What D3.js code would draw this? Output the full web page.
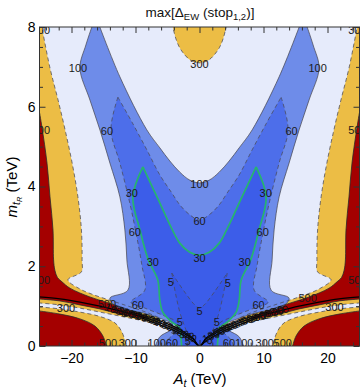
<!DOCTYPE html>
<html>
<head>
<meta charset="utf-8">
<script src="https://cdn.jsdelivr.net/npm/d3@7/dist/d3.min.js"></script>
<style>
  body { margin: 0; background: #fff; }
  svg { display: block; }
  text { font-family: "Liberation Sans", Arial, sans-serif; }
</style>
</head>
<body>
<div id="chart"></div>
<script>
(function() {
  // contour lines for A_t < 0, as [A_t, m_tR] in TeV; the A_t > 0 half is mirrored
  var dome300 = [[0,7.10],[-0.74,7.12],[-1.52,7.18],[-2.3,7.30],[-3.1,7.48],[-3.72,7.72],[-4.3,8.1]];
  var outer300 = [[-24.75,8.1],[-23.4,7.0],[-22.1,6.17],[-21.0,5.42],[-19.9,4.59],[-19.0,3.74],[-18.45,2.91],[-18.35,2.16],[-18.45,1.86],[-20.55,1.66],[-18.68,1.43],[-16.81,1.30],[-14.63,1.18],[-12.12,1.05],[-8.39,0.85],[-6.2,0.70]];
  var band300 = [[-6.2,0.58],[-9.32,0.65],[-12.44,0.75],[-15.56,0.85],[-18.68,0.95],[-21.8,1.03],[-25.1,1.08]];
  var low300 = [[-25.1,0.98],[-21.8,0.93],[-18.68,0.85],[-15.56,0.74],[-13.22,0.58],[-12.12,0.35],[-11.35,-0.05]];
  var top500 = [[-25.1,5.95],[-24.6,5.47],[-23.83,4.59],[-23.36,3.74],[-22.89,2.91],[-22.8,2.16],[-22.6,1.90],[-22.2,1.72],[-21.49,1.61],[-20.24,1.45],[-17.12,1.23],[-14.63,1.10],[-12.12,0.97],[-9.32,0.80],[-7.76,0.68]];
  var bot500 = [[-7.76,0.68],[-9.32,0.70],[-12.44,0.80],[-15.56,0.93],[-18.68,1.03],[-21.8,1.13],[-25.1,1.18]];
  var low500 = [[-25.1,0.88],[-21.8,0.80],[-18.68,0.68],[-16.34,0.50],[-15.09,0.25],[-14.47,-0.05]];
  var out100 = [[-16.6,8.1],[-17.75,7.55],[-18.68,6.97],[-17.12,6.17],[-15.56,5.42],[-14.0,4.59],[-12.44,3.74],[-11.66,2.91],[-11.35,2.16],[-11.19,1.40],[-14.0,1.20],[-12.91,0.98],[-8.85,0.83],[-5.42,0.65],[-3.39,0.50],[-4.64,0.38],[-6.2,0.23],[-6.98,-0.05]];
  var in100 = [[-15.81,8.1],[-12.44,6.75],[-8.23,5.42],[-6.2,4.97],[-4.64,4.64],[-3.08,4.36],[-1.52,4.16],[0,4.09]];
  var out60 = [[-12.75,6.24],[-13.84,5.42],[-12.44,4.59],[-11.0,3.66],[-9.95,2.86],[-9.01,2.03],[-8.54,1.40],[-10.73,1.10],[-8.54,0.95],[-5.42,0.75],[-3.08,0.55],[-3.7,0.35],[-4.95,0.15],[-5.42,-0.05]];
  var in60 = [[-12.75,6.24],[-10.4,5.57],[-8.23,4.92],[-6.2,4.29],[-4.33,3.84],[-3.08,3.54],[-1.52,3.29],[0,3.16]];
  var out30 = [[-8.85,4.49],[-10.41,3.74],[-9.3,2.91],[-8.0,2.16],[-6.51,1.65],[-6.2,1.15],[-5.73,0.85],[-4.33,0.60],[-3.08,0.45],[-2.93,0.28],[-2.77,-0.05]];
  var in30 = [[-8.85,4.49],[-6.4,3.66],[-4.5,3.0],[-3.08,2.58],[-1.52,2.35],[0,2.28]];
  var out5 = [[-4.33,1.83],[-3.7,1.28],[-3.08,0.85],[-2.46,0.55],[-1.99,0.35]];
  var in5 = [[-4.33,1.83],[-2.3,1.35],[-0.74,1.03],[0,0.95]];
  var low5 = [[-2.1,0.28],[-1.7,0.12],[-1.6,-0.05]];
  // where all the contours pile up
  var ridge = [[-25.1,1.23],[-21.8,1.18],[-18.68,1.10],[-15.56,1.00],[-12.44,0.88],[-9.32,0.75],[-6.98,0.63],[-5.42,0.53],[-3.86,0.43],[-2.30,0.30],[-1.05,0.18],[0,0]];
  var ridgeHi = [[-11,0.86],[-9.32,0.79],[-6.98,0.68],[-5.42,0.58],[-3.86,0.48],[-2.3,0.34],[-1.05,0.2],[0,0]];
  var ridgeLo = [[-9,0.70],[-6.98,0.58],[-5.42,0.48],[-3.86,0.38],[-2.3,0.25],[-1.05,0.13],[0,0]];

  // contour labels [A_t, m_tR, text]; the ones at the frame show only what is left of them
  var labels = [
    [0,7.07,'300'],[-18.99,6.97,'100'],[18.45,6.97,'100'],
    [-14.47,5.39,'60'],[14.39,5.39,'60'],
    [0,4.06,'100'],[0,3.13,'60'],[0,2.2,'30'],
    [-10.57,3.84,'30'],[10.34,3.84,'30'],
    [-10.1,2.86,'60'],[9.87,2.86,'60'],
    [-7.29,2.11,'30'],[7.06,2.11,'30'],
    [-4.49,1.61,'5'],[4.41,1.58,'5'],[0,0.88,'5'],
    [-9.63,1.03,'60'],[9.24,1.03,'60'],
    [-3.08,0.60,'5'],[2.69,0.60,'5'],[-1.83,0.13,'5'],[1.6,0.15,'5'],
    [-14.47,1.05,'500'],[16.89,1.20,'500'],
    [-20.86,0.95,'300'],[21.1,0.98,'300'],
    [-24.3,1.66,'00'],[24.2,1.66,'50'],[-24.3,5.42,'00'],[24.2,5.42,'50'],
    [-24.3,7.93,'00'],[24.2,7.93,'30'],
    [-14.3,0.07,'500'],[-11.2,0.07,'300'],[-6.7,0.07,'100'],[-4.3,0.07,'60'],
    [4.6,0.07,'60'],[7.0,0.07,'100'],[10.2,0.07,'300'],[13.0,0.07,'500']
  ];
  var crowdText = ['1000','500','300','100','60','30','1000','500','300','100','60','30','5','1000','500'];
  var crowdA = [-13,-12.2,-11.4,-10.6,-9.8,-9,-8.2,-7.4,-6.6,-5.8,-5,-4.2,-3.4,-2.6,-1.8];
  var crowdM = [0.90,0.87,0.84,0.81,0.77,0.73,0.70,0.66,0.61,0.56,0.50,0.45,0.39,0.32,0.24];

  var xTicks = [-20,-10,0,10,20],
      yTicks = [0,2,4,6,8],
      xMinor = d3.range(-24, 25, 2).filter(function(v) { return v % 10 !== 0; }),
      yMinor = d3.range(0.5, 8, 0.5).filter(function(v) { return v % 2 !== 0; });

  var colors = {
    lt5: '#3556e6', lt30: '#3c5de9', lt60: '#4d6eea', lt100: '#6e8ce9',
    lt300: '#e6ebfb', lt500: '#ecbd45', hi: '#a40000'
  };

  var W = 360, H = 392;
  var x = d3.scaleLinear().domain([-25,25]).range([39.5,359.5]),
      y = d3.scaleLinear().domain([0,8]).range([346,27]);

  var svg = d3.select('#chart').append('svg').attr('width', W).attr('height', H);

  svg.append('clipPath').attr('id', 'plot')
    .append('rect').attr('x', x(-25)).attr('y', y(8))
    .attr('width', x(25) - x(-25)).attr('height', y(0) - y(8));

  var curved = d3.line()
    .x(function(d) { return x(d[0]); })
    .y(function(d) { return y(d[1]); })
    .curve(d3.curveCatmullRom.alpha(0.5));

  function mir(p) { return p.map(function(d) { return [-d[0], d[1]]; }); }
  function rev(p) { return p.slice().reverse(); }
  function sym(p) { return p.concat(rev(mir(p)).slice(1)); } // p ends on A_t = 0

  function part(p, first) {
    if (p.length > 2) {
      var s = curved(p);
      return first ? s : 'L' + s.slice(1);
    }
    return p.map(function(q, j) {
      return (first && j === 0 ? 'M' : 'L') + x(q[0]) + ',' + y(q[1]);
    }).join('');
  }
  function poly(parts) {
    return parts.map(function(p, i) { return part(p, i === 0); }).join('') + 'Z';
  }

  var g = svg.append('g').attr('clip-path', 'url(#plot)');

  g.append('rect').attr('x', x(-25)).attr('y', y(8))
    .attr('width', x(25) - x(-25)).attr('height', y(0) - y(8))
    .attr('fill', colors.lt300);

  var domeFull = sym(rev(dome300)),
      in100Full = sym(in100), in60Full = sym(in60),
      in30Full = sym(in30), in5Full = sym(in5);

  var fills = [
    [poly([domeFull]), colors.lt500],
    [poly([outer300, band300, [[-25.1,8.1]]]), colors.lt500],
    [poly([mir(outer300), mir(band300), [[25.1,8.1]]]), colors.lt500],
    [poly([low300, [[-25.1,-0.05]]]), colors.lt500],
    [poly([mir(low300), [[25.1,-0.05]]]), colors.lt500],
    [poly([top500, bot500]), colors.hi],
    [poly([mir(top500), mir(bot500)]), colors.hi],
    [poly([low500, [[-25.1,-0.05]]]), colors.hi],
    [poly([mir(low500), [[25.1,-0.05]]]), colors.hi],
    [poly([out100, rev(mir(out100)), rev(in100Full)]), colors.lt100],
    [poly([out60, rev(mir(out60)), rev(in60Full)]), colors.lt60],
    [poly([out30, rev(mir(out30)), rev(in30Full)]), colors.lt30],
    [poly([out5, [[0,0]], rev(mir(out5)), rev(in5Full)]), colors.lt5]
  ];
  fills.forEach(function(f) {
    g.append('path').attr('d', f[0]).attr('fill', f[1]);
  });

  // contour lines
  function both(p) { return [p, mir(p)]; }
  var dashed = [domeFull, in60Full, in5Full]
    .concat(both(outer300), both(band300), both(low300), both(out60), both(out5), both(low5));
  var solid = [in100Full].concat(both(out100));
  var dark = [].concat(both(top500), both(bot500), both(low500));
  var green = [in30Full].concat(both(out30));
  var black = [sym(ridge), sym(ridgeHi), sym(ridgeLo)];

  function draw(list, stroke, width, dash, op) {
    list.forEach(function(p) {
      g.append('path').attr('d', curved(p))
        .attr('fill', 'none').attr('stroke', stroke)
        .attr('stroke-width', width).attr('stroke-opacity', op)
        .attr('stroke-dasharray', dash);
    });
  }
  draw(dashed, '#4a4a55', 1, '4,3', 0.75);
  draw(solid, '#4a4a55', 1, null, 0.75);
  draw(dark, '#2a2a2a', 1, null, 0.8);
  draw(green, '#27b46e', 1.7, null, 1);
  draw(black, '#000', 1.2, null, 1);

  // contour labels
  g.selectAll('text.lab').data(labels).enter().append('text')
    .attr('class', 'lab')
    .attr('x', function(d) { return x(d[0]); })
    .attr('y', function(d) { return y(d[1]); })
    .attr('text-anchor', 'middle').attr('dy', '0.36em')
    .attr('font-size', 11).attr('fill', '#1a1a1a')
    .text(function(d) { return d[2]; });

  [1, -1].forEach(function(s) {
    crowdA.forEach(function(a, i) {
      var px = x(s * a), py = y(crowdM[i]);
      g.append('text')
        .attr('transform', 'translate(' + px + ',' + py + ') rotate(' + (s * 20) + ')')
        .attr('text-anchor', 'middle').attr('dy', '0.36em')
        .attr('font-size', 10.5).attr('fill', '#111')
        .text(crowdText[(i + (s < 0 ? 4 : 0)) % crowdText.length]);
    });
  });

  // frame and ticks
  function fmt(v) { return v < 0 ? '\u2212' + Math.abs(v) : '' + v; }
  var axes = svg.append('g');

  function ax(gen, t, values, size, pad, labelsOn) {
    var a = axes.append('g').attr('transform', t)
      .call(gen.tickValues(values).tickSize(size).tickPadding(pad)
        .tickFormat(labelsOn ? fmt : ''));
    a.select('.domain').remove();
    a.selectAll('line').attr('stroke', '#333');
    a.selectAll('text').attr('fill', '#000').attr('font-size', 14)
      .attr('font-family', '"Liberation Sans", Arial, sans-serif');
    return a;
  }
  ax(d3.axisBottom(x), 'translate(0,' + y(0) + ')', xTicks, -6, 7, true);
  ax(d3.axisBottom(x), 'translate(0,' + y(0) + ')', xMinor, -3.5, 7, false);
  ax(d3.axisTop(x), 'translate(0,' + y(8) + ')', xTicks, -6, 3, false);
  ax(d3.axisTop(x), 'translate(0,' + y(8) + ')', xMinor, -3.5, 3, false);
  ax(d3.axisLeft(y), 'translate(' + x(-25) + ',0)', yTicks, -6, 4, true);
  ax(d3.axisLeft(y), 'translate(' + x(-25) + ',0)', yMinor, -3.5, 4, false);
  ax(d3.axisRight(y), 'translate(' + x(25) + ',0)', yTicks, -6, 3, false);
  ax(d3.axisRight(y), 'translate(' + x(25) + ',0)', yMinor, -3.5, 3, false);

  svg.append('rect').attr('x', x(-25)).attr('y', y(8))
    .attr('width', x(25) - x(-25)).attr('height', y(0) - y(8))
    .attr('fill', 'none').attr('stroke', '#333').attr('stroke-width', 1);

  // title and axis names
  var title = svg.append('text').attr('x', 200).attr('y', 16.5)
    .attr('text-anchor', 'middle').attr('font-size', 13.5).attr('fill', '#111');
  title.append('tspan').text('max[\u0394');
  title.append('tspan').attr('font-size', 9.5).attr('dy', 3).text('EW');
  title.append('tspan').attr('dy', -3).text(' (stop');
  title.append('tspan').attr('font-size', 9.5).attr('dy', 3).text('1,2');
  title.append('tspan').attr('dy', -3).text(')]');

  var xl = svg.append('text').attr('x', 200).attr('y', 384)
    .attr('text-anchor', 'middle').attr('font-size', 15).attr('fill', '#000');
  xl.append('tspan').attr('font-style', 'italic').text('A');
  xl.append('tspan').attr('font-style', 'italic').attr('font-size', 10.5).attr('dy', 3).text('t');
  xl.append('tspan').attr('dy', -3).text(' (TeV)');

  var yl = svg.append('text').attr('transform', 'translate(17,187) rotate(-90)')
    .attr('text-anchor', 'middle').attr('font-size', 15).attr('fill', '#000');
  yl.append('tspan').attr('font-style', 'italic').text('m');
  yl.append('tspan').attr('font-style', 'italic').attr('font-size', 10.5).attr('dy', 3).text('t');
  yl.append('tspan').attr('font-style', 'italic').attr('font-size', 7.5).attr('dy', 2).text('R');
  yl.append('tspan').attr('dy', -5).text(' (TeV)');
})();
</script>
</body>
</html>
